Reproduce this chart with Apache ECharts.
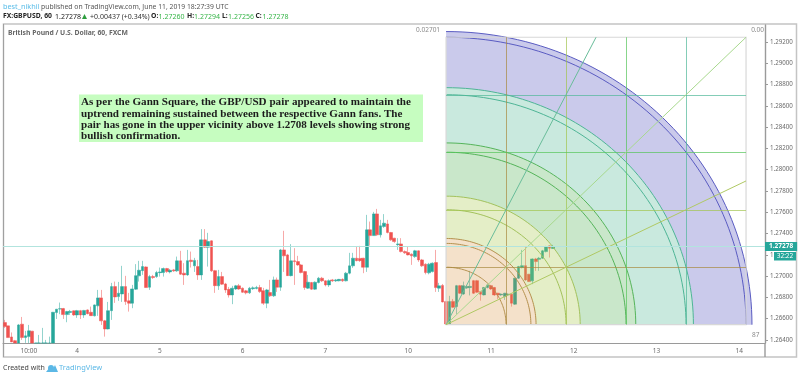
<!DOCTYPE html>
<html>
<head>
<meta charset="utf-8">
<title>GBPUSD Gann Square</title>
<script src="https://cdn.jsdelivr.net/npm/echarts@6/dist/echarts.min.js"></script>
<style>
html, body { margin: 0; padding: 0; background: #fff; }
#main { width: 800px; height: 378px; }
</style>
</head>
<body>
<div id="main"></div>
<script>
// hourly GBPUSD candles, first bar is 3 June 03:00
var opens = [
1.26564,1.26533,1.26429,1.26394,1.26345,1.26549,1.26423,1.26432,1.26483,1.26307,
1.26307,1.26354,1.26354,1.26326,1.26345,1.26658,1.26691,1.26695,1.26639,1.26659,
1.26674,1.26636,1.26676,1.26636,1.26683,1.26661,1.26627,1.26721,1.26796,1.26580,
1.26504,1.26676,1.26902,1.26808,1.26833,1.26902,1.26768,1.26746,1.26878,1.27003,
1.27052,1.27087,1.26896,1.26996,1.26996,1.27033,1.27034,1.27071,1.27040,1.27059,
1.27050,1.27144,1.27028,1.27012,1.27150,1.27097,1.27090,1.27012,1.27341,1.27272,
1.27332,1.27052,1.26909,1.26996,1.26927,1.26876,1.26824,1.26880,1.26909,1.26887,
1.26862,1.26843,1.26882,1.26885,1.26893,1.26864,1.26746,1.26846,1.26815,1.26965,
1.26896,1.27247,1.27200,1.27005,1.27144,1.27137,1.27106,1.27043,1.26887,1.26940,
1.26878,1.26940,1.26981,1.26956,1.26918,1.26965,1.26956,1.26957,1.26970,1.26956,
1.27028,1.27097,1.27169,1.27167,1.27169,1.27084,1.27435,1.27381,1.27585,1.27388,
1.27466,1.27491,1.27410,1.27357,1.27296,1.27303,1.27231,1.27222,1.27207,1.27184,
1.27238,1.27153,1.27113,1.27031,1.27043,1.27128,1.26887,1.26913,1.26761,1.26547,
1.26763,1.26714,1.26911,1.26833,1.26890,1.26894,1.26958,1.26958,1.26855,1.26824,
1.26893,1.26911,1.26893,1.26840,1.26824,1.26808,1.26824,1.26831,1.26737,1.26981,
1.27081,1.27099,1.27019,1.26956,1.27162,1.27158,1.27169,1.27231,1.27285,1.27260];
var closes = [
1.26526,1.26423,1.26382,1.26354,1.26542,1.26423,1.26439,1.26486,1.26307,1.26251,
1.26345,1.26307,1.26326,1.26363,1.26661,1.26690,1.26694,1.26639,1.26667,1.26669,
1.26636,1.26676,1.26636,1.26678,1.26648,1.26629,1.26730,1.26796,1.26580,1.26504,
1.26676,1.26902,1.26805,1.26840,1.26902,1.26761,1.26746,1.26880,1.27005,1.27056,
1.27090,1.26893,1.26996,1.26987,1.27034,1.27040,1.27071,1.27043,1.27056,1.27050,
1.27144,1.27019,1.27012,1.27146,1.27137,1.27148,1.27012,1.27341,1.27272,1.27325,
1.27050,1.26911,1.26996,1.26925,1.26871,1.26824,1.26887,1.26909,1.26880,1.26849,
1.26843,1.26887,1.26890,1.26894,1.26855,1.26746,1.26871,1.26815,1.26965,1.26896,
1.27247,1.27191,1.27005,1.27144,1.27137,1.27106,1.27034,1.26893,1.26943,1.26878,
1.26943,1.26981,1.26956,1.26918,1.26958,1.26956,1.26965,1.26970,1.26956,1.27028,
1.27097,1.27169,1.27146,1.27146,1.27084,1.27435,1.27381,1.27585,1.27388,1.27473,
1.27498,1.27410,1.27341,1.27325,1.27303,1.27231,1.27219,1.27200,1.27191,1.27238,
1.27153,1.27097,1.27034,1.27113,1.27122,1.26893,1.26909,1.26758,1.26551,1.26761,
1.26708,1.26911,1.26840,1.26911,1.26904,1.26904,1.26840,1.26849,1.26831,1.26893,
1.26918,1.26880,1.26824,1.26824,1.26831,1.26840,1.26831,1.26746,1.26981,1.27090,
1.27099,1.26965,1.26949,1.27162,1.27137,1.27169,1.27238,1.27278,1.27263,1.27278];
var lows = [
1.26514,1.26420,1.26382,1.26335,1.26326,1.26401,1.26373,1.26354,1.26288,1.26232,
1.26288,1.26288,1.26307,1.26307,1.26326,1.26598,1.26643,1.26598,1.26567,1.26636,
1.26627,1.26608,1.26598,1.26608,1.26641,1.26627,1.26622,1.26627,1.26542,1.26432,
1.26500,1.26589,1.26749,1.26768,1.26758,1.26730,1.26667,1.26699,1.26871,1.26949,
1.27012,1.26890,1.26871,1.26974,1.26984,1.26996,1.26996,1.27031,1.27026,1.27040,
1.27040,1.27012,1.26918,1.27003,1.27081,1.27040,1.26965,1.26965,1.27266,1.27090,
1.27040,1.26843,1.26871,1.26918,1.26843,1.26799,1.26737,1.26871,1.26871,1.26843,
1.26829,1.26833,1.26871,1.26876,1.26843,1.26730,1.26699,1.26805,1.26805,1.26852,
1.26862,1.27040,1.27003,1.26998,1.26918,1.27097,1.27026,1.26871,1.26880,1.26871,
1.26871,1.26932,1.26946,1.26904,1.26899,1.26946,1.26946,1.26951,1.26946,1.26951,
1.27017,1.27078,1.27139,1.27134,1.27028,1.27040,1.27287,1.27379,1.27379,1.27363,
1.27454,1.27402,1.27332,1.27313,1.27247,1.27223,1.27209,1.27195,1.27106,1.27172,
1.27134,1.27087,1.27017,1.27017,1.27035,1.26852,1.26852,1.26753,1.26547,1.26542,
1.26702,1.26645,1.26833,1.26824,1.26880,1.26819,1.26833,1.26843,1.26770,1.26819,
1.26885,1.26871,1.26815,1.26786,1.26815,1.26777,1.26815,1.26714,1.26730,1.26974,
1.27073,1.26956,1.26946,1.26925,1.27050,1.27050,1.27162,1.27223,1.27175,1.27256];
var highs = [
1.26589,1.26533,1.26471,1.26401,1.26551,1.26617,1.26486,1.26542,1.26486,1.26354,
1.26448,1.26514,1.26401,1.26432,1.26664,1.26692,1.26752,1.26702,1.26674,1.26683,
1.26678,1.26683,1.26683,1.26683,1.26688,1.26714,1.26735,1.26871,1.26871,1.26589,
1.26758,1.26937,1.26949,1.26946,1.27097,1.27003,1.26843,1.26918,1.27113,1.27144,
1.27144,1.27092,1.27012,1.27012,1.27050,1.27081,1.27081,1.27078,1.27068,1.27068,
1.27184,1.27238,1.27122,1.27247,1.27231,1.27172,1.27153,1.27442,1.27442,1.27407,
1.27336,1.27059,1.27059,1.27040,1.26937,1.26899,1.26909,1.26918,1.26927,1.26894,
1.26871,1.26899,1.26904,1.26909,1.26918,1.26890,1.26880,1.26965,1.26996,1.26987,
1.27256,1.27426,1.27209,1.27301,1.27263,1.27191,1.27115,1.27050,1.27012,1.26946,
1.26951,1.26993,1.26993,1.26960,1.26970,1.26974,1.26974,1.26974,1.26979,1.27040,
1.27219,1.27219,1.27278,1.27285,1.27172,1.27576,1.27513,1.27604,1.27632,1.27529,
1.27583,1.27529,1.27416,1.27360,1.27357,1.27357,1.27242,1.27278,1.27214,1.27247,
1.27242,1.27162,1.27120,1.27125,1.27129,1.27247,1.26937,1.26927,1.26768,1.26815,
1.26786,1.26918,1.26918,1.26949,1.26913,1.27050,1.26965,1.26965,1.26862,1.26899,
1.26927,1.26918,1.26899,1.26843,1.26838,1.26843,1.26838,1.26833,1.26984,1.27097,
1.27247,1.27278,1.27021,1.27167,1.27172,1.27181,1.27247,1.27285,1.27289,1.27294];

// axes
var barCount = 221;
var timeTickIndex = [7, 21, 45, 69, 93, 117, 141, 165, 189, 213];
var timeTickLabels = ['10:00', '4', '5', '6', '7', '10', '11', '12', '13', '14'];
var priceTicks = [1.264, 1.266, 1.268, 1.27, 1.272, 1.274, 1.276, 1.278, 1.28, 1.282,
	1.284, 1.286, 1.288, 1.29, 1.292];
var priceMin = 1.26372;
var priceMax = 1.2936;
var lastPrice = 1.27278;

// gann square
var gannStartIndex = 128;
var gannBars = 87;
var gannLow = 1.26544;
var gannRange = 0.02701;
var gannGrid = [1, 2, 3, 4];
var gannArcs = [1, 1.414, 1.5, 2, 2.236, 3, 3.162, 4, 4.123, 5, 5.099];
var gannBandEdges = [0, 1.5, 2.236, 3.162, 4.123, 5.099];
var gannBandColors = ['rgba(214,140,50,0.26)', 'rgba(165,200,70,0.3)', 'rgba(76,175,80,0.3)',
	'rgba(38,166,125,0.25)', 'rgba(60,60,180,0.27)'];
var gannArcColors = ['#b5914e', '#b5914e', '#b5914e', '#a3c25c', '#a3c25c', '#55b45a', '#55b45a',
	'#4eb596', '#4eb596', '#5a5cc2', '#5a5cc2'];
var gannGridColors = ['#a88a40', '#a3c450', '#55c45a', '#50b898'];
var gannFanSlopes = [[1, 2], [1, 1], [2, 1]];
var gannFanColors = ['#69bd9a', '#a8d98e', '#b0c964'];

var categories = [];
for (var i = 0; i < barCount; i++) {
	var at = timeTickIndex.indexOf(i);
	categories.push(at >= 0 ? timeTickLabels[at] : '');
}
// the plot cuts bars off at the axis, so keep them above its bottom
function floorPrice(v) {
	return Math.max(v, priceMin);
}
var candles = opens.map(function(o, i) {
	return [floorPrice(o), floorPrice(closes[i]), floorPrice(lows[i]), floorPrice(highs[i])];
});

var smallFont = '"Noto Sans", sans-serif';
var grey = '#6b6b6b';

function arcPoints(o, w, h, r, reverse) {
	var pts = [];
	for (var k = 0; k <= 60; k++) {
		var a = Math.PI / 2 * (reverse ? 60 - k : k) / 60;
		pts.push([o[0] + r * w * Math.cos(a), o[1] - r * h * Math.sin(a)]);
	}
	return pts;
}

function crisp(v) {
	return Math.round(v) + 0.5;
}

function renderGann(params, api) {
	var o = api.coord([gannStartIndex, gannLow]);
	var c = api.coord([gannStartIndex + gannBars, gannLow + gannRange]);
	var w = (c[0] - o[0]) / 5;
	var h = (o[1] - c[1]) / 5;
	var kids = [];

	gannBandColors.forEach(function(col, n) {
		var pts = arcPoints(o, w, h, gannBandEdges[n + 1], false);
		pts = pts.concat(n === 0 ? [o] : arcPoints(o, w, h, gannBandEdges[n], true));
		kids.push({type: 'polygon', shape: {points: pts}, style: {fill: col}});
	});
	gannArcs.forEach(function(r, n) {
		kids.push({type: 'polyline', shape: {points: arcPoints(o, w, h, r, false)},
			style: {fill: 'none', stroke: gannArcColors[n], lineWidth: 1}});
	});
	// border of the square
	kids.push({type: 'rect', shape: {x: o[0], y: c[1], width: c[0] - o[0], height: o[1] - c[1]},
		style: {fill: 'none', stroke: '#d8d8d8', lineWidth: 1.2}});
	gannGrid.forEach(function(g, n) {
		var gx = crisp(o[0] + g * w);
		var gy = crisp(o[1] - g * h);
		kids.push({type: 'line', shape: {x1: gx, y1: o[1], x2: gx, y2: c[1]},
			style: {stroke: gannGridColors[n], lineWidth: 1, opacity: 0.7}});
		kids.push({type: 'line', shape: {x1: o[0], y1: gy, x2: c[0], y2: gy},
			style: {stroke: gannGridColors[n], lineWidth: 1, opacity: 0.7}});
	});
	gannFanSlopes.forEach(function(s, n) {
		var sx = s[1] >= s[0] ? s[0] / s[1] : 1;
		var sy = s[0] >= s[1] ? s[1] / s[0] : 1;
		kids.push({type: 'line', shape: {x1: o[0], y1: o[1], x2: o[0] + sx * 5 * w, y2: o[1] - sy * 5 * h},
			style: {stroke: gannFanColors[n], lineWidth: 1}});
	});
	var labelStyle = {fill: '#8a8a8a', font: '6.5px ' + smallFont};
	kids.push({type: 'text', x: o[0] - 6, y: c[1] - 7, style: Object.assign({text: gannRange.toFixed(5),
		align: 'right', verticalAlign: 'middle'}, labelStyle)});
	kids.push({type: 'text', x: c[0] + 18, y: c[1] - 7, style: Object.assign({text: '0.00',
		align: 'right', verticalAlign: 'middle'}, labelStyle)});
	kids.push({type: 'text', x: c[0] + 6, y: o[1] + 10, style: Object.assign({text: String(gannBars),
		align: 'left', verticalAlign: 'middle'}, labelStyle)});
	return {type: 'group', children: kids};
}

function headText(x, y, text, fill, size, weight) {
	return {type: 'text', x: x, y: y, silent: true, style: {text: text, fill: fill,
		font: (weight || 'normal') + ' ' + size + 'px ' + smallFont, textVerticalAlign: 'middle'}};
}

var myChart = echarts.init(document.getElementById('main'));
var option = {
	animation: false,
	backgroundColor: '#fff',
	grid: {left: 3, top: 25, width: 762, height: 318},
	xAxis: {
		type: 'category',
		data: categories,
		axisLine: {lineStyle: {color: '#9a9a9a', width: 1}},
		axisTick: {length: 2, lineStyle: {color: '#9a9a9a'}, alignWithLabel: true,
			interval: function(i) { return timeTickIndex.indexOf(i) >= 0; }},
		axisLabel: {interval: 0, color: grey, fontSize: 6.5, fontFamily: smallFont, margin: 5},
		splitLine: {show: false}
	},
	yAxis: {
		type: 'value',
		position: 'right',
		min: priceMin,
		max: priceMax,
		axisLine: {show: true, lineStyle: {color: '#9a9a9a', width: 1.4}},
		axisTick: {show: true, length: 3, lineStyle: {color: '#9a9a9a'}, customValues: priceTicks},
		axisLabel: {color: grey, fontSize: 6.2, fontFamily: smallFont, margin: 5, customValues: priceTicks,
			formatter: function(v) { return v.toFixed(5); }},
		splitLine: {show: false}
	},
	series: [{
		type: 'candlestick',
		data: candles,
		barWidth: 3.2,
		z: 2,
		itemStyle: {color: '#26a69a', color0: '#ef5350', borderColor: '#26a69a', borderColor0: '#ef5350',
			borderWidth: 0.5},
		markLine: {
			silent: true,
			symbol: 'none',
			animation: false,
			precision: 5,
			data: [{yAxis: lastPrice}],
			lineStyle: {color: '#b2e4de', type: 'solid', width: 1},
			label: {position: 'end', formatter: lastPrice.toFixed(5), color: '#fff', fontWeight: 'bold',
				fontSize: 6.5, fontFamily: smallFont, backgroundColor: '#26a69a', padding: [1, 4, 1, 4],
				distance: 0}
		}
	}, {
		type: 'custom',
		coordinateSystem: 'cartesian2d',
		data: [[gannStartIndex, gannLow]],
		z: 3,
		silent: true,
		renderItem: renderGann
	}],
	graphic: [
		// frame round the plot
		{type: 'rect', silent: true, z: -1, shape: {x: 3.5, y: 24, width: 793, height: 333},
			style: {fill: 'none', stroke: '#c4c4c4', lineWidth: 1.5}},
		{type: 'line', silent: true, shape: {x1: 3.5, y1: 24, x2: 3.5, y2: 357}, style: {stroke: '#a0a0a0', lineWidth: 1}},
		{type: 'line', silent: true, shape: {x1: 765, y1: 343, x2: 765, y2: 357}, style: {stroke: '#9a9a9a', lineWidth: 1.4}},
		// countdown box
		{type: 'rect', silent: true, z: 20, shape: {x: 774, y: 252, width: 22, height: 8.5}, style: {fill: '#26a69a'}},
		{type: 'text', silent: true, z: 21, x: 785, y: 256.5, style: {text: '32:22', fill: '#fff',
			font: '6.5px ' + smallFont, align: 'center', verticalAlign: 'middle'}},
		// header
		headText(3, 7, 'best_nikhil', '#5bbde8', 7.3),
		headText(41, 7, 'published on TradingView.com, June 11, 2019 18:27:39 UTC', '#555', 6.8),
		headText(3, 16.5, 'FX:GBPUSD, 60', '#222', 6.8, 'bold'),
		headText(55, 16.5, '1.27278', '#222', 7),
		{type: 'polygon', silent: true, shape: {points: [[82, 19], [87, 19], [84.5, 14]]}, style: {fill: '#2e9e3f'}},
		headText(90, 16.5, '+0.00437 (+0.34%)', '#333', 7),
		headText(151, 16.5, 'O:', '#222', 6.8, 'bold'),
		headText(158.5, 16.5, '1.27260', '#38b54a', 7),
		headText(187, 16.5, 'H:', '#222', 6.8, 'bold'),
		headText(194, 16.5, '1.27294', '#38b54a', 7),
		headText(222, 16.5, 'L:', '#222', 6.8, 'bold'),
		headText(228, 16.5, '1.27256', '#38b54a', 7),
		headText(255.5, 16.5, 'C:', '#222', 6.8, 'bold'),
		headText(262.5, 16.5, '1.27278', '#38b54a', 7),
		headText(8, 33.5, 'British Pound / U.S. Dollar, 60, FXCM', '#666', 6.8, 'bold'),
		// annotation
		{type: 'rect', silent: true, shape: {x: 79, y: 94.5, width: 344, height: 47.5}, style: {fill: '#c6fdc0'}},
		{type: 'text', silent: true, x: 81, y: 97, style: {
			text: 'As per the Gann Square, the GBP/USD pair appeared to maintain the\n' +
				'uptrend remaining sustained between the respective Gann fans. The\n' +
				'pair has gone in the upper vicinity above 1.2708 levels showing strong\n' +
				'bullish confirmation.',
			fill: '#1c1c1c', font: 'bold 11.1px "Liberation Serif", serif', lineHeight: 11.1}},
		// footer
		{type: 'text', silent: true, x: 3, y: 368, style: {text: 'Created with', fill: '#444',
			font: '7px ' + smallFont, textVerticalAlign: 'middle'}},
		{type: 'circle', silent: true, shape: {cx: 51, cy: 368, r: 3}, style: {fill: '#5cb8e6'}},
		{type: 'polygon', silent: true, shape: {points: [[46, 372], [50, 367], [53, 369], [55, 365], [58, 372]]},
			style: {fill: '#5cb8e6'}},
		{type: 'text', silent: true, x: 59, y: 368, style: {text: 'TradingView', fill: '#5cb8e6',
			font: '7.5px ' + smallFont, textVerticalAlign: 'middle'}}
	]
};
myChart.setOption(option);
</script>
</body>
</html>
